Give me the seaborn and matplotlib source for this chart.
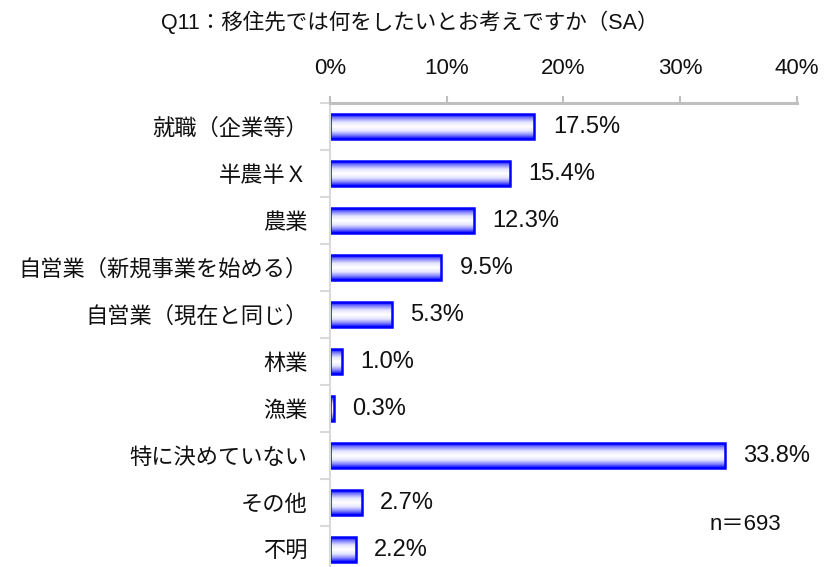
import numpy as np
import pandas as pd
import seaborn as sns
import matplotlib.pyplot as plt
from matplotlib.colors import LinearSegmentedColormap

categories = ["就職（企業等）", "半農半Ｘ", "農業", "自営業（新規事業を始める）",
              "自営業（現在と同じ）", "林業", "漁業", "特に決めていない", "その他", "不明"]
values = [17.5, 15.4, 12.3, 9.5, 5.3, 1.0, 0.3, 33.8, 2.7, 2.2]
x_ticks = [0, 10, 20, 30, 40]
title = "Q11：移住先では何をしたいとお考えですか（SA）"
n_note = "n＝693"

sns.set_theme(style="white")
plt.rcParams['font.family'] = ['Liberation Sans', 'Noto Sans CJK JP', 'DejaVu Sans']
FS = 16

df = pd.DataFrame({"category": categories, "value": values})

fig = plt.figure(figsize=(8.24, 5.67), dpi=100)
ax = fig.add_axes([0.4005, -0.0106, 0.5667, 0.8289])

sns.barplot(data=df, x="value", y="category", orient="h", ax=ax,
            width=0.53, facecolor="none", edgecolor="#0000FF", linewidth=1.8)

# blue-white-blue gradient inside each bar
grad_cmap = LinearSegmentedColormap.from_list(
    "bw", [(0, "#FFFFFF"), (0.35, "#E6E6FF"), (0.7, "#8080FF"), (1, "#0000FF")])
g = np.abs(np.linspace(-1, 1, 64)).reshape(-1, 1)
for p in ax.patches:
    x0, y0 = p.get_x(), p.get_y()
    w, h = p.get_width(), p.get_height()
    im = ax.imshow(g, extent=[x0, x0 + w, y0 + h, y0], aspect="auto",
                   cmap=grad_cmap, vmin=0, vmax=1, zorder=1, interpolation="bilinear")
    im.set_clip_path(p)
    p.set_zorder(2)

ax.set_xlim(0, 40)
ax.set_ylim(len(categories) - 0.5, -0.5)

for i, v in enumerate(values):
    ax.text(v + 1.6, i, f"{v:.1f}%", va="center", ha="left", fontsize=17, color="#111111")

ax.xaxis.tick_top()
ax.set_xticks(x_ticks)
ax.set_xticklabels([f"{t}%" for t in x_ticks], fontsize=FS, color="#111111")
ax.tick_params(axis="x", direction="out", length=5, width=1.5, color="#BFBFBF", pad=12)

ax.set_yticks(range(len(categories)))
ax.set_yticklabels(categories, fontsize=FS, color="#111111")
ax.tick_params(axis="y", which="major", length=0, pad=16)
ax.set_yticks(np.arange(-0.5, len(categories), 1), minor=True)
ax.tick_params(axis="y", which="minor", direction="out", length=7, width=1.5,
               color="#D9D9D9", left=True)

ax.set_xlabel("")
ax.set_ylabel("")
for s in ["right", "bottom"]:
    ax.spines[s].set_visible(False)
ax.spines["top"].set_color("#BFBFBF")
ax.spines["top"].set_linewidth(2.2)
ax.spines["left"].set_color("#D9D9D9")
ax.spines["left"].set_linewidth(1.5)

fig.text(410 / 824, 1 - 22 / 567, title, ha="center", va="center", fontsize=15.5, color="#111111")
fig.text(745 / 824, 1 - 525 / 567, n_note, ha="center", va="center", fontsize=FS, color="#111111")

fig.savefig("out.png", dpi=100)
